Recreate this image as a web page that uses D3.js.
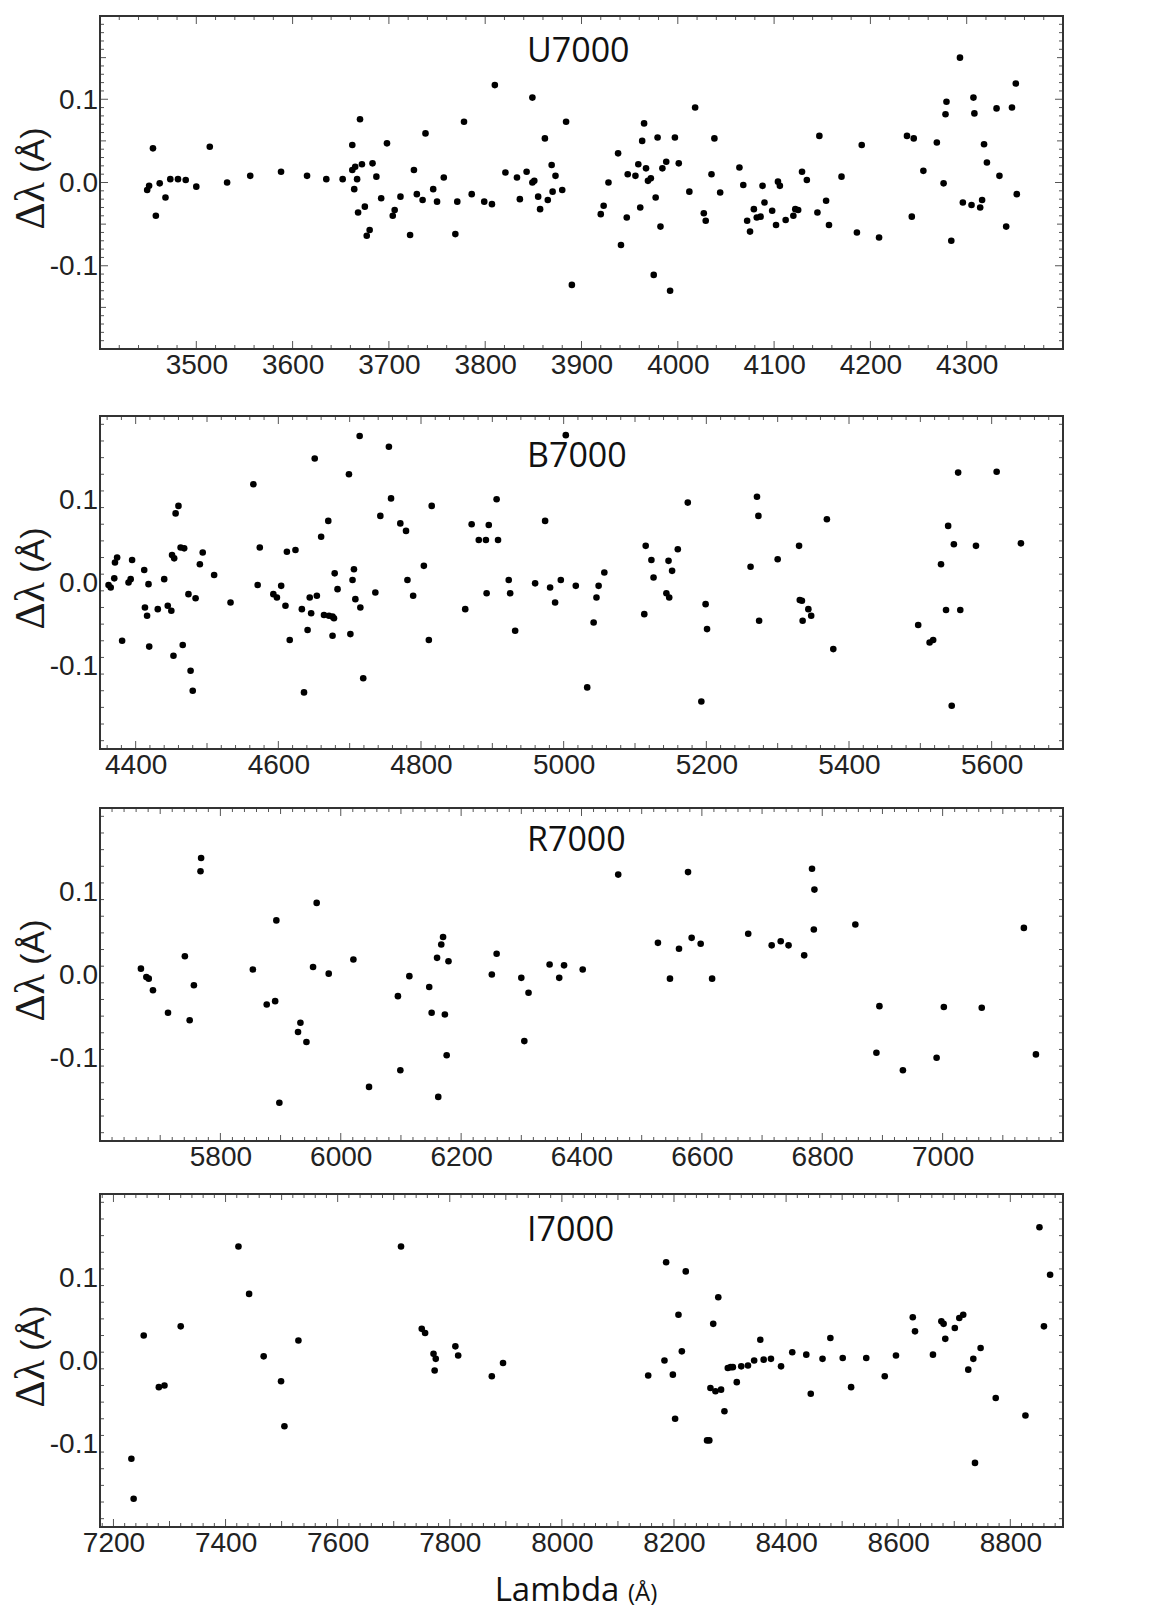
<!DOCTYPE html>
<html>
<head>
<meta charset="utf-8">
<script src="https://cdn.jsdelivr.net/npm/d3@7"></script>
<style>
  body { margin: 0; background: #fff; }
</style>
</head>
<body>
<div id="chart"></div>
<script>
// Δλ residuals vs wavelength, four grating setups

const u7000Lambda = [3449,3451,3455,3458,3462,3468,3473,3481,3489,3500,3514,3532,3556,3588,3615,3635,3652,3662,3662,3664,3665,3667,3668,3670,3672,3675,3677,3680,3683,3687,3692,3698,3704,3706,3712,3722,3726,3729,3735,3738,3746,3750,3757,3769,3771,3778,3786,3799,3807,3810,3821,3833,3836,3843,3849,3849,3851,3855,3857,3862,3865,3869,3870,3873,3880,3884,3890,3920,3923,3928,3938,3941,3947,3948,3956,3959,3961,3963,3965,3967,3969,3972,3975,3977,3979,3982,3984,3988,3992,3997,4001,4012,4018,4027,4029,4035,4038,4044,4064,4068,4072,4075,4079,4082,4086,4088,4090,4098,4102,4104,4106,4112,4120,4122,4125,4129,4134,4145,4147,4154,4157,4170,4186,4191,4209,4238,4243,4245,4255,4269,4276,4278,4279,4284,4293,4296,4305,4307,4308,4314,4316,4318,4321,4331,4334,4341,4347,4351,4352];
const u7000Delta = [-0.009,-0.004,0.041,-0.040,-0.001,-0.018,0.004,0.004,0.003,-0.005,0.043,0.000,0.008,0.013,0.008,0.004,0.004,0.045,0.015,-0.008,0.019,0.004,-0.036,0.076,0.022,-0.029,-0.064,-0.057,0.023,0.007,-0.019,0.047,-0.040,-0.033,-0.017,-0.063,0.015,-0.014,-0.021,0.059,-0.008,-0.023,0.006,-0.062,-0.023,0.073,-0.014,-0.023,-0.026,0.117,0.012,0.006,-0.020,0.013,0.102,0.000,0.002,-0.017,-0.032,0.053,-0.021,0.021,-0.011,0.008,-0.009,0.073,-0.123,-0.038,-0.028,0.000,0.035,-0.075,-0.042,0.010,0.008,0.022,-0.030,0.050,0.071,0.017,0.002,0.005,-0.111,-0.018,0.054,-0.053,0.017,0.025,-0.130,0.054,0.023,-0.011,0.090,-0.037,-0.046,0.010,0.053,-0.012,0.018,-0.003,-0.046,-0.059,-0.032,-0.042,-0.041,-0.004,-0.024,-0.034,-0.051,0.001,-0.004,-0.045,-0.040,-0.032,-0.033,0.013,0.003,-0.036,0.056,-0.022,-0.051,0.007,-0.060,0.045,-0.066,0.056,-0.041,0.053,0.014,0.048,-0.001,0.082,0.097,-0.070,0.150,-0.024,-0.027,0.102,0.083,-0.030,-0.021,0.046,0.024,0.089,0.008,-0.053,0.090,0.119,-0.014];

const b7000Lambda = [4362,4365,4370,4371,4374,4381,4390,4393,4395,4412,4413,4416,4418,4419,4431,4440,4445,4450,4451,4453,4454,4456,4460,4463,4466,4468,4474,4477,4480,4484,4490,4494,4510,4533,4565,4571,4574,4593,4598,4604,4610,4612,4616,4624,4633,4636,4641,4644,4646,4651,4654,4660,4664,4670,4671,4676,4676,4678,4679,4683,4699,4701,4704,4706,4708,4714,4715,4719,4736,4743,4755,4758,4771,4779,4781,4789,4804,4811,4815,4862,4871,4881,4891,4892,4895,4906,4908,4923,4925,4932,4960,4974,4981,4988,4996,5003,5017,5033,5042,5046,5049,5057,5113,5115,5123,5126,5144,5147,5148,5152,5160,5174,5193,5199,5201,5262,5271,5273,5274,5300,5330,5331,5334,5335,5343,5347,5369,5378,5497,5513,5518,5529,5536,5539,5544,5547,5553,5556,5578,5607,5641];
const b7000Delta = [-0.003,-0.006,0.005,0.024,0.030,-0.070,0.000,0.004,0.027,0.015,-0.030,-0.040,-0.002,-0.077,-0.032,0.004,-0.028,-0.034,0.033,-0.088,0.029,0.083,0.092,0.042,-0.075,0.041,-0.014,-0.106,-0.130,-0.019,0.022,0.036,0.009,-0.024,0.118,-0.003,0.042,-0.014,-0.018,-0.004,-0.028,0.037,-0.069,0.039,-0.032,-0.132,-0.057,-0.018,-0.037,0.149,-0.016,0.055,-0.039,0.074,-0.040,-0.041,-0.064,-0.043,0.011,-0.008,0.130,-0.062,0.003,0.016,-0.020,0.176,-0.030,-0.115,-0.012,0.080,0.163,0.101,0.071,0.062,0.003,-0.016,0.020,-0.069,0.092,-0.032,0.070,0.051,0.051,-0.013,0.069,0.100,0.051,0.003,-0.013,-0.058,-0.001,0.074,-0.006,-0.024,0.003,0.177,-0.004,-0.126,-0.048,-0.018,-0.004,0.012,-0.038,0.044,0.027,0.006,-0.013,0.026,-0.018,0.014,0.040,0.096,-0.143,-0.026,-0.056,0.019,0.103,0.080,-0.046,0.028,0.044,-0.021,-0.022,-0.046,-0.032,-0.040,0.076,-0.080,-0.051,-0.072,-0.069,0.022,-0.033,0.068,-0.148,0.046,0.132,-0.033,0.044,0.133,0.047];

const r7000Lambda = [5668,5677,5681,5688,5713,5741,5749,5756,5767,5768,5854,5877,5891,5893,5898,5929,5933,5943,5954,5960,5980,6021,6047,6095,6099,6114,6147,6151,6160,6162,6167,6170,6173,6176,6179,6251,6259,6300,6305,6312,6347,6363,6371,6402,6461,6527,6547,6562,6577,6583,6598,6617,6677,6716,6731,6744,6770,6783,6787,6786,6855,6890,6895,6934,6990,7002,7065,7135,7155];
const r7000Delta = [0.007,-0.003,-0.005,-0.019,-0.046,0.022,-0.055,-0.013,0.124,0.140,0.006,-0.036,-0.032,0.065,-0.154,-0.069,-0.058,-0.081,0.009,0.086,0.001,0.018,-0.135,-0.026,-0.115,-0.002,-0.015,-0.046,0.020,-0.147,0.036,0.045,-0.048,-0.097,0.016,0.000,0.025,-0.004,-0.080,-0.022,0.012,-0.004,0.011,0.006,0.120,0.038,-0.005,0.031,0.123,0.044,0.037,-0.005,0.049,0.035,0.040,0.035,0.023,0.127,0.102,0.054,0.060,-0.094,-0.038,-0.115,-0.100,-0.039,-0.040,0.056,-0.096];

const i7000Lambda = [7232,7236,7254,7281,7291,7320,7423,7442,7468,7499,7505,7530,7713,7750,7756,7771,7775,7773,7810,7815,7875,7895,8154,8183,8186,8198,8202,8208,8214,8221,8259,8263,8265,8270,8274,8279,8284,8290,8296,8301,8305,8312,8320,8332,8343,8354,8360,8373,8391,8411,8436,8444,8465,8479,8501,8516,8543,8576,8596,8626,8630,8662,8677,8681,8684,8701,8709,8716,8725,8734,8737,8747,8774,8827,8852,8860,8871];
const i7000Delta = [-0.118,-0.166,0.030,-0.032,-0.030,0.041,0.137,0.080,0.005,-0.025,-0.079,0.024,0.137,0.038,0.033,0.008,0.002,-0.012,0.017,0.006,-0.019,-0.003,-0.018,0.000,0.118,-0.017,-0.070,0.055,0.011,0.107,-0.096,-0.096,-0.033,0.044,-0.037,0.076,-0.035,-0.061,-0.009,-0.008,-0.008,-0.026,-0.007,-0.006,0.000,0.025,0.001,0.002,-0.007,0.010,0.007,-0.040,0.002,0.027,0.003,-0.032,0.003,-0.019,0.006,0.052,0.035,0.007,0.047,0.044,0.026,0.039,0.051,0.055,-0.011,0.002,-0.123,0.015,-0.045,-0.066,0.160,0.041,0.103];

// tick labels
const uXTicks = [3500, 3600, 3700, 3800, 3900, 4000, 4100, 4200, 4300];
const bXTicks = [4400, 4600, 4800, 5000, 5200, 5400, 5600];
const rXTicks = [5800, 6000, 6200, 6400, 6600, 6800, 7000];
const iXTicks = [7200, 7400, 7600, 7800, 8000, 8200, 8400, 8600, 8800];
const yTickLabels = [-0.1, 0.0, 0.1];

// layout
const W = 1161, H = 1611;
const frameX0 = 100, frameX1 = 1063;
const panelH = 333;

const panels = [
  { name: "U7000", lambda: u7000Lambda, delta: u7000Delta, domain: [3400, 4400], xticks: uXTicks, top: 16,   titleDy: 46, yStep: 1, yMid: true,  xMidEvery: 0 },
  { name: "B7000", lambda: b7000Lambda, delta: b7000Delta, domain: [4350, 5700], xticks: bXTicks, top: 416,  titleDy: 51, yStep: 2, yMid: false, xMidEvery: 100 },
  { name: "R7000", lambda: r7000Lambda, delta: r7000Delta, domain: [5600, 7200], xticks: rXTicks, top: 808,  titleDy: 43, yStep: 2, yMid: false, xMidEvery: 100 },
  { name: "I7000", lambda: i7000Lambda, delta: i7000Delta, domain: [7176, 8894], xticks: iXTicks, top: 1194, titleDy: 47, yStep: 2, yMid: false, xMidEvery: 100 }
];

const svg = d3.select("#chart").append("svg")
  .attr("width", W)
  .attr("height", H)
  .style("display", "block");

const tickColor = "#555";

panels.forEach(p => {
  const top = p.top, bottom = p.top + panelH;
  const x = d3.scaleLinear().domain(p.domain).range([frameX0, frameX1]);
  const y = d3.scaleLinear().domain([-0.2, 0.2]).range([bottom, top]);

  const g = svg.append("g");

  // tick sets (inward on all four sides)
  const xMinor = d3.range(Math.ceil(p.domain[0] / 20) * 20, p.domain[1], 20)
    .filter(v => v > p.domain[0]);
  const xMajorStep = p.xticks[1] - p.xticks[0];
  const xLen = v => (v % xMajorStep === 0) ? 8 : (p.xMidEvery && v % p.xMidEvery === 0 ? 6 : 4);

  const yMinor = d3.range(-19, 20, p.yStep);
  const yLen = i => (i % 10 === 0) ? 8 : (p.yMid && i % 5 === 0 ? 6 : 4);

  const tickG = g.append("g").attr("stroke", tickColor).attr("stroke-width", 1);

  xMinor.forEach(v => {
    const L = xLen(v);
    tickG.append("line").attr("x1", x(v)).attr("x2", x(v)).attr("y1", bottom).attr("y2", bottom - L);
    tickG.append("line").attr("x1", x(v)).attr("x2", x(v)).attr("y1", top).attr("y2", top + L);
  });
  yMinor.forEach(i => {
    const v = i / 100, L = yLen(i);
    tickG.append("line").attr("x1", frameX0).attr("x2", frameX0 + L).attr("y1", y(v)).attr("y2", y(v));
    tickG.append("line").attr("x1", frameX1).attr("x2", frameX1 - L).attr("y1", y(v)).attr("y2", y(v));
  });

  // x tick labels
  g.append("g")
    .attr("transform", `translate(0,${bottom})`)
    .call(d3.axisBottom(x).tickValues(p.xticks).tickSize(0).tickPadding(5).tickFormat(d => String(d)))
    .call(a => a.select(".domain").remove())
    .selectAll("text")
    .style("font-family", "'Liberation Sans', Arial, sans-serif")
    .style("font-size", "28px")
    .style("fill", "#222");

  // y tick labels
  g.append("g")
    .attr("transform", `translate(${frameX0},0)`)
    .call(d3.axisLeft(y).tickValues(yTickLabels).tickSize(0).tickPadding(2).tickFormat(d => d.toFixed(1)))
    .call(a => a.select(".domain").remove())
    .selectAll("text")
    .style("font-family", "'Liberation Sans', Arial, sans-serif")
    .style("font-size", "28px")
    .style("fill", "#222");

  // points
  g.append("g").selectAll("circle")
    .data(p.lambda.map((l, i) => [l, p.delta[i]]))
    .enter().append("circle")
    .attr("cx", d => x(d[0]))
    .attr("cy", d => y(d[1]))
    .attr("r", 3.3)
    .attr("fill", "#000");

  // frame
  g.append("rect")
    .attr("x", frameX0).attr("y", top)
    .attr("width", frameX1 - frameX0).attr("height", panelH)
    .attr("fill", "none").attr("stroke", "#333").attr("stroke-width", 2);

  // panel title
  g.append("text")
    .attr("x", 527)
    .attr("y", top + p.titleDy)
    .style("font-family", "'Open Sans', 'Noto Sans', sans-serif")
    .style("font-size", "34px")
    .style("fill", "#111")
    .text(p.name);

  // y label
  const yl = g.append("text")
    .attr("transform", `translate(44,${(top + bottom) / 2 - 4}) rotate(-90)`)
    .attr("text-anchor", "middle")
    .style("fill", "#1a1a1a");
  yl.append("tspan")
    .style("font-family", "'Liberation Serif', 'Times New Roman', serif")
    .style("font-size", "42px")
    .text("Δλ");
  yl.append("tspan")
    .style("font-family", "'Liberation Sans', Arial, sans-serif")
    .style("font-size", "34px")
    .text(" (Å)");
});

// x label
const xl = svg.append("text")
  .attr("x", 576)
  .attr("y", 1601)
  .attr("text-anchor", "middle")
  .style("font-family", "'Open Sans', 'Noto Sans', sans-serif")
  .style("fill", "#111");
xl.append("tspan").style("font-size", "33px").text("Lambda ");
xl.append("tspan").style("font-size", "24px").text("(Å)");
</script>
</body>
</html>
